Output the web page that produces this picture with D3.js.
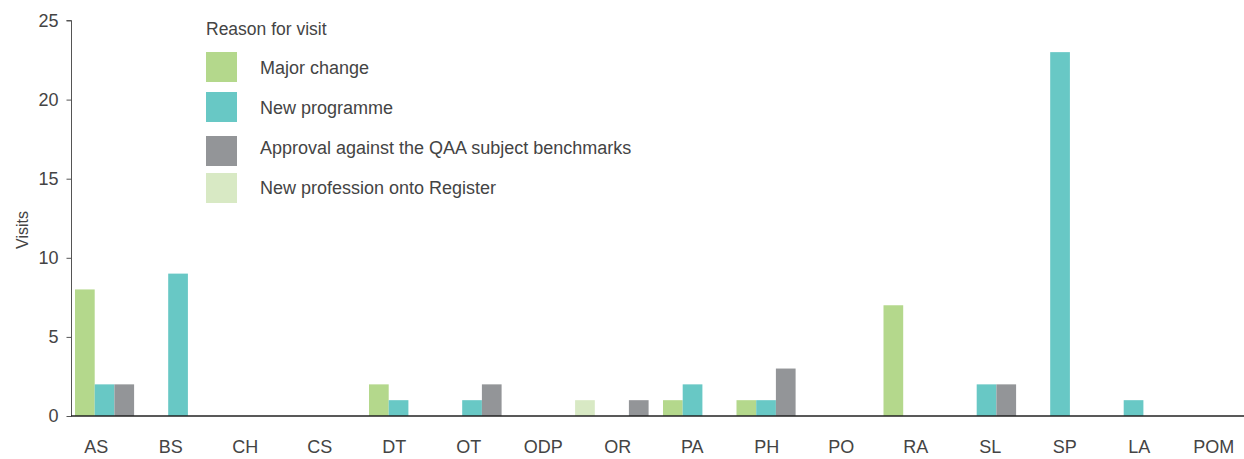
<!DOCTYPE html>
<html>
<head>
<meta charset="utf-8">
<script src="https://cdn.jsdelivr.net/npm/d3@7"></script>
<style>
  body { margin: 0; background: #fff; }
  text { font-family: "Liberation Sans", Arial, sans-serif; }
</style>
</head>
<body>
<svg id="chart" width="1244" height="459"></svg>
<script>
// data
var categories = ["AS", "BS", "CH", "CS", "DT", "OT", "ODP", "OR", "PA", "PH", "PO", "RA", "SL", "SP", "LA", "POM"];
var seriesNames = ["Major change", "New programme", "Approval against the QAA subject benchmarks", "New profession onto Register"];
var majorChange   = [8, 0, 0, 0, 2, 0, 0, 0, 1, 1, 0, 7, 0, 0, 0, 0];
var newProgramme  = [2, 9, 0, 0, 1, 1, 0, 0, 2, 1, 0, 0, 2, 23, 1, 0];
var qaaApproval   = [2, 0, 0, 0, 0, 2, 0, 1, 0, 3, 0, 0, 2, 0, 0, 0];
var newProfession = [0, 0, 0, 0, 0, 0, 1, 0, 0, 0, 0, 0, 0, 0, 0, 0];
var yTicks = [0, 5, 10, 15, 20, 25];
var colors = ["#b4d88c", "#68c8c5", "#939598", "#d8e9c4"];

var series = [majorChange, newProgramme, qaaApproval, newProfession];

var svg = d3.select("#chart");

var y = d3.scaleLinear().domain([0, 25]).range([416, 20.5]);

// bar groups
var x0 = d3.scaleBand().domain(categories).range([75, 75 + 16 * 73.5]);
var x1 = d3.scaleBand().domain(d3.range(4)).range([0, 78.8]);
// label positions
var xLab = d3.scaleBand().domain(categories).range([59, 59 + 16 * 74.5]);

var rows = [];
categories.forEach(function(c, i) {
    series.forEach(function(s, j) {
        if (s[i] > 0) rows.push({ cat: c, k: j, v: s[i] });
    });
});

svg.append("g").selectAll("rect")
    .data(rows)
    .enter()
    .append("rect")
    .attr("x", function(d) { return x0(d.cat) + x1(d.k); })
    .attr("width", x1.bandwidth())
    .attr("y", function(d) { return y(d.v); })
    .attr("height", function(d) { return y(0) - y(d.v); })
    .attr("fill", function(d) { return colors[d.k]; });

// y axis
var yAxis = svg.append("g")
    .attr("transform", "translate(71.5,0)")
    .call(d3.axisLeft(y).tickValues(yTicks).tickSize(5).tickPadding(8));
yAxis.select(".domain").attr("stroke", "#555").attr("d", "M-5,20.5H0V416");
yAxis.selectAll(".tick line").attr("stroke", "#555");
yAxis.selectAll(".tick text")
    .attr("fill", "#444")
    .style("font-size", "18px");

// x axis
var xAxis = svg.append("g")
    .attr("transform", "translate(0,416)")
    .call(d3.axisBottom(xLab).tickSize(0).tickPadding(24));
xAxis.select(".domain").attr("stroke", "#222").attr("stroke-width", 1.6).attr("d", "M71,0H1244");
xAxis.selectAll(".tick text")
    .attr("fill", "#444")
    .style("font-size", "18px");

svg.append("text")
    .attr("transform", "translate(28,230) rotate(-90)")
    .attr("text-anchor", "middle")
    .attr("fill", "#444")
    .style("font-size", "16px")
    .text("Visits");

// legend
var legend = svg.append("g");
legend.append("text")
    .attr("x", 206)
    .attr("y", 35)
    .attr("fill", "#444")
    .style("font-size", "17.5px")
    .text("Reason for visit");

var legendY = [52, 92, 136, 173];
var legendTextY = [22, 22, 18, 21];
var items = legend.selectAll(".item")
    .data(seriesNames)
    .enter()
    .append("g")
    .attr("transform", function(d, i) { return "translate(206," + legendY[i] + ")"; });

items.append("rect")
    .attr("width", 31)
    .attr("height", 30)
    .attr("fill", function(d, i) { return colors[i]; });

items.append("text")
    .attr("x", 54)
    .attr("y", function(d, i) { return legendTextY[i]; })
    .attr("fill", "#444")
    .style("font-size", "18px")
    .text(function(d) { return d; });
</script>
</body>
</html>
